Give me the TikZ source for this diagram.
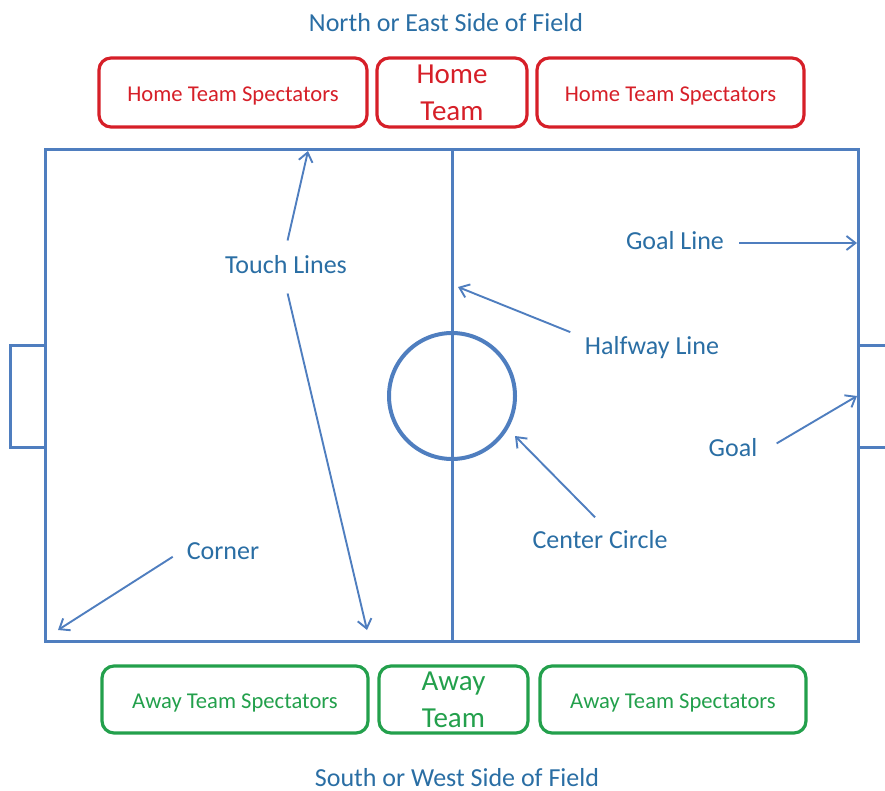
\documentclass[tikz,border=0pt]{standalone}
\usepackage{fontspec}
\setmainfont{Carlito}
\usepackage{xcolor}
\usetikzlibrary{arrows.meta}

\definecolor{fieldblue}{HTML}{4F7EBF}
\definecolor{labelblue}{HTML}{2A6EA4}
\definecolor{homered}{HTML}{D61F28}
\definecolor{awaygreen}{HTML}{23A04C}

\tikzset{
  fieldline/.style={draw=fieldblue, line width=3pt},
  lbl/.style={text=labelblue, font=\fontsize{26}{28}\selectfont, inner sep=8pt,
    text height=18pt, text depth=5pt},
  pointer/.style={draw=fieldblue, line width=1.9pt, shorten <=7pt,
    -{Straight Barb[length=9pt, width=14pt, line width=1.9pt]}},
  sidetitle/.style={text=labelblue, font=\fontsize{26}{28}\selectfont, inner sep=1pt},
  homebox/.style={draw=homered, line width=3.2pt, rounded corners=12pt,
    minimum height=69pt, inner sep=0pt, text=homered},
  awaybox/.style={draw=awaygreen, line width=3.2pt, rounded corners=12pt,
    minimum height=67pt, inner sep=0pt, text=awaygreen},
  seats/.style={font=\fontsize{22.6}{26}\selectfont, text height=18.5pt, text depth=0pt},
  team/.style={font=\fontsize{29}{37}\selectfont, align=center}
}

\begin{document}
\begin{tikzpicture}[x=1pt, y=-1pt]
\useasboundingbox (0,0) rectangle (885,791);

% field
\draw[fieldline] (45,150) rectangle (858,641);
\draw[fieldline] (452,150) -- (452,641);
\draw[draw=fieldblue, line width=4pt] (452,396) circle (63);
\draw[fieldline] (45,345) -- (10,345) -- (10,447) -- (45,447);
\draw[fieldline] (858,345) -- (895,345);
\draw[fieldline] (858,447) -- (895,447);

% sides
\node[sidetitle] (north) at (446,23) {North or East Side of Field};
\node[sidetitle] (south) at (457,777.5) {South or West Side of Field};

\node[homebox, seats, minimum width=268pt] (homeL) at (233,92.5) {Home Team Spectators};
\node[homebox, team, minimum width=150pt] (home) at (452,92.5) {Home\\Team};
\node[homebox, seats, minimum width=267pt] (homeR) at (670.5,92.5) {Home Team Spectators};

\node[awaybox, seats, minimum width=266pt] (awayL) at (235,699.5) {Away Team Spectators};
\node[awaybox, team, minimum width=149pt] (away) at (453.5,699.5) {Away\\Team};
\node[awaybox, seats, minimum width=266pt] (awayR) at (673,699.5) {Away Team Spectators};

% labels
\node[lbl] (touch) at (286,267) {Touch Lines};
\node[lbl] (goalline) at (675,243) {Goal Line};
\node[lbl] (halfway) at (652,348) {Halfway Line};
\node[lbl] (goal) at (733,450) {Goal};
\node[lbl] (circle) at (600,542) {Center Circle};
\node[lbl] (corner) at (223,553) {Corner};

\coordinate (touchTop) at (308,151);
\coordinate (touchBot) at (367,630);
\coordinate (goalEnd) at (857,243);
\coordinate (halfEnd) at (458,287);
\coordinate (goalMouth) at (857,396);
\coordinate (circEdge) at (515,436);
\coordinate (cornerEnd) at (58,630);

\draw[pointer] (touch.north) -- (touchTop);
\draw[pointer] (touch.south) -- (touchBot);
\draw[pointer] (goalline) -- (goalEnd);
\draw[pointer] (halfway.170) -- (halfEnd);
\draw[pointer, shorten <=13pt] (goal.east) -- (goalMouth);
\draw[pointer] (circle.north) -- (circEdge);
\draw[pointer] (corner.west) -- (cornerEnd);

\end{tikzpicture}
\end{document}
